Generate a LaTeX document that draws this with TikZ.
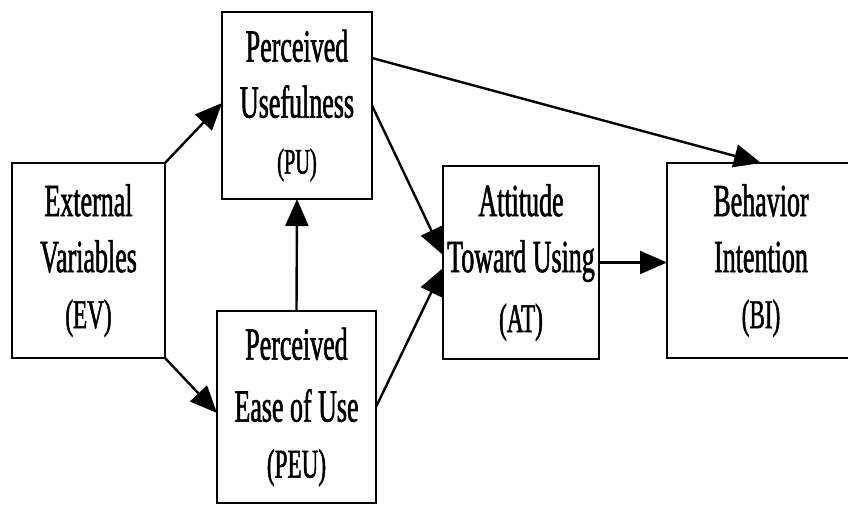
\documentclass[tikz,border=0pt]{standalone}
\usepackage{fontspec}
\setmainfont[FakeStretch=0.565,FakeBold=1.2]{Liberation Serif}
\usetikzlibrary{arrows.meta}
\newcommand\abbrtext[1]{{\fontsize{41}{58}\selectfont #1}}
\begin{document}
\begin{tikzpicture}[x=1pt,y=-1pt,
  box/.style={draw,line width=2.8pt,outer sep=0pt,inner sep=0pt,align=center,
    font=\fontsize{46}{56}\selectfont},
  link/.style={line width=2.4pt,-{Triangle[length=27pt,width=23pt]}}]
\useasboundingbox[fill=white] (0,0) rectangle (848,508);
\node[box,minimum width=153pt,minimum height=195pt] (EV) at (88.5,260.5)
  {External\\Variables\\\abbrtext{(EV)}};
\node[box,minimum width=150pt,minimum height=187pt] (PU) at (297,105.5)
  {Perceived\\Usefulness\\\abbrtext{\fontsize{36}{52}\selectfont(PU)}};
\node[box,minimum width=159pt,minimum height=192pt] (PEU) at (296.5,407)
  {Perceived\\[6pt]Ease of Use\\\abbrtext{(PEU)}};
\node[box,minimum width=156pt,minimum height=193pt] (AT) at (521,262.5)
  {Attitude\\Toward Using\\[4pt]\abbrtext{(AT)}};
\node[box,minimum width=188pt,minimum height=195pt,text width=188pt] (BI) at (761,260.5)
  {Behavior\\Intention\\\abbrtext{(BI)}};
\draw[link] (EV.north east) -- ([yshift=2.5pt]PU.west);
\draw[link] (EV.south east) -- ([yshift=-6pt]PEU.west);
\draw[link] (PEU.north) -- (PU.south);
\draw[link] (PU.east) -- ([yshift=7.5pt]AT.west);
\draw[link] (PEU.east) -- ([yshift=-5.5pt]AT.west);
\draw[link] ([yshift=-46pt]PU.north east) -- (BI.north);
\draw[link] (AT.east) -- (AT.east -| BI.west);
\end{tikzpicture}
\end{document}
